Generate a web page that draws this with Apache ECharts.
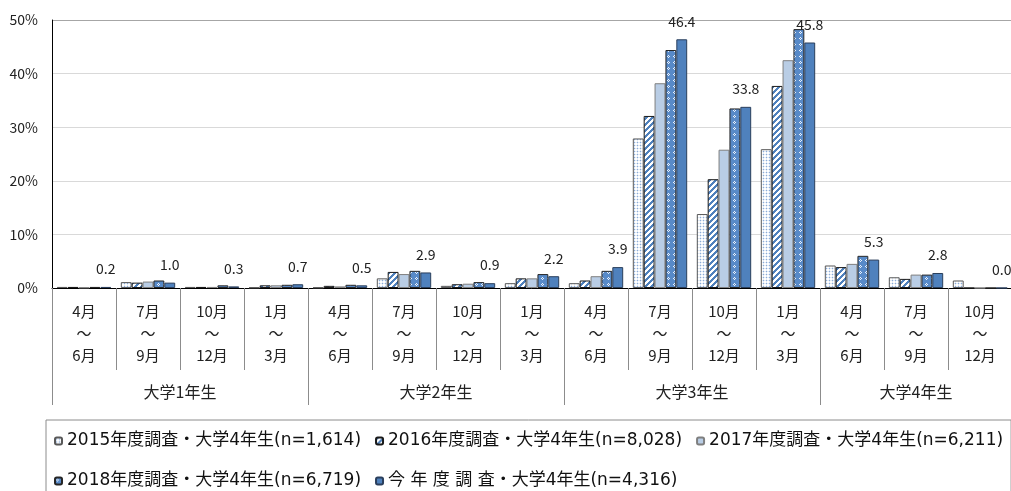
<!DOCTYPE html>
<html><head><meta charset="utf-8">
<script src="https://cdn.jsdelivr.net/npm/echarts@6/dist/echarts.min.js"></script>
<style>html,body{margin:0;padding:0;background:#fff}#c{width:1011px;height:491px}</style>
</head><body><div id="c"></div>
<script>
const categories = ['4月\n～\n6月','7月\n～\n9月','10月\n～\n12月','1月\n～\n3月',
                    '4月\n～\n6月','7月\n～\n9月','10月\n～\n12月','1月\n～\n3月',
                    '4月\n～\n6月','7月\n～\n9月','10月\n～\n12月','1月\n～\n3月',
                    '4月\n～\n6月','7月\n～\n9月','10月\n～\n12月'];
const groups = ['大学1年生','大学2年生','大学3年生','大学4年生'];
const groupSizes = [4,4,4,3];
const seriesNames = ['2015年度調査・大学4年生(n=1,614)','2016年度調査・大学4年生(n=8,028)','2017年度調査・大学4年生(n=6,211)','2018年度調査・大学4年生(n=6,719)','今 年 度 調 査・大学4年生(n=4,316)'];
const s2015 = [0.2,1.1,0.2,0.1, 0.1,1.8,0.4,0.9, 0.9,27.9,13.8,25.9, 4.2,2.0,1.4];
const s2016 = [0.2,1.0,0.2,0.5, 0.4,3.0,0.7,1.8, 1.4,32.1,20.3,37.7, 3.9,1.7,0];
const s2017 = [0.1,1.2,0.2,0.5, 0.3,2.6,0.8,1.8, 2.2,38.2,25.8,42.5, 4.5,2.5,0];
const s2018 = [0.2,1.4,0.5,0.6, 0.6,3.2,1.1,2.6, 3.2,44.4,33.5,48.3, 6.0,2.5,0];
const sNow  = [0.2,1.0,0.3,0.7, 0.5,2.9,0.9,2.2, 3.9,46.4,33.8,45.8, 5.3,2.8,0.0];
const yMax = 50, yStep = 10;

function pattern(size, fn) {
  const c = document.createElement('canvas'); c.width = c.height = size;
  const ctx = c.getContext('2d'); const img = ctx.createImageData(size, size);
  for (let y = 0; y < size; y++) for (let x = 0; x < size; x++) {
    const col = fn(x, y); const i = (y * size + x) * 4;
    img.data[i] = col[0]; img.data[i+1] = col[1]; img.data[i+2] = col[2]; img.data[i+3] = 255;
  }
  ctx.putImageData(img, 0, 0);
  return { image: c, repeat: 'repeat' };
}
const W = [255,255,255], B = [79,129,189], LB = [140,172,215];
const pat2015 = pattern(3, (x,y) => (x===1 && y===1) ? LB : (x===1 || y===1) ? [225,234,246] : W);
const pat2016 = pattern(6, (x,y) => ((x+y)%6 < 3) ? B : W);
const pat2018 = pattern(6, (x,y) => {
  const d = Math.abs(x-2) + Math.abs(y-2);
  return d === 1 ? [235,241,250] : [88,138,200];
});

const styles = [
  { color: pat2015, borderColor: '#595959', borderWidth: 1 },
  { color: pat2016, borderColor: '#1a1a1a', borderWidth: 1 },
  { color: '#b9cde5', borderColor: '#7f7f7f', borderWidth: 1 },
  { color: pat2018, borderColor: '#262626', borderWidth: 1 },
  { color: '#4f81bd', borderColor: '#2b3f5c', borderWidth: 1 }
];
const dataSets = [s2015, s2016, s2017, s2018, sNow];

const groupBounds = [0]; groupSizes.forEach(s => groupBounds.push(groupBounds[groupBounds.length-1] + s));
const groupCenters = groupSizes.map((s,i) => groupBounds[i] + s/2);
const yTicks = []; for (let v = 0; v <= yMax; v += yStep) yTicks.push(v);
const gridColors = yTicks.map((v,i) => i === yTicks.length-1 ? '#a6a6a6' : '#d9d9d9');

const font = "'Noto Sans CJK JP', 'Noto Sans', sans-serif";
const legendFont = "'DejaVu Sans', 'Noto Sans CJK JP', sans-serif";
const chart = echarts.init(document.getElementById('c'));
chart.setOption({
  animation: false,
  textStyle: { fontFamily: font },
  grid: { left: 52, right: -1, top: 20, bottom: 203, containLabel: false, outerBoundsMode: 'none' },
  legend: {
    left: 46, top: 420, width: 990, selectedMode: false,
    padding: [8, 8, 8, 8], borderColor: '#8c8c8c', borderWidth: 1,
    itemWidth: 7, itemHeight: 7, itemGap: 14,
    textStyle: { fontFamily: legendFont, fontSize: 17, color: '#111', lineHeight: 26 },
    data: seriesNames
  },
  xAxis: [{
    type: 'category', data: categories, boundaryGap: true,
    axisLine: { lineStyle: { color: '#000', width: 1 } },
    axisTick: { show: true, length: 82, lineStyle: { color: '#8c8c8c' } },
    axisLabel: { interval: 0, margin: 12, lineHeight: 22, fontSize: 15, color: '#222', fontFamily: font }
  }, {
    type: 'value', min: 0, max: groupBounds[groupBounds.length-1], position: 'bottom',
    axisLine: { show: false }, splitLine: { show: false },
    axisTick: { show: true, customValues: groupBounds.slice(0, -1), length: 117, lineStyle: { color: '#8c8c8c' } },
    axisLabel: { customValues: groupCenters, margin: 96, fontSize: 16, color: '#222', fontFamily: font,
      formatter: v => { const i = groupCenters.indexOf(v); return i >= 0 ? groups[i] : ''; } }
  }],
  yAxis: {
    type: 'value', min: 0, max: yMax, interval: yStep,
    axisLine: { show: true, lineStyle: { color: '#000' } },
    axisTick: { show: false },
    axisLabel: { formatter: '{value}%', fontSize: 14, margin: 14, color: '#222', fontFamily: font },
    splitLine: { lineStyle: { color: gridColors, width: 1 } }
  },
  series: seriesNames.map((n, i) => ({
    name: n, type: 'bar', xAxisIndex: 0, data: dataSets[i],
    barGap: '0%', barCategoryGap: '15%',
    itemStyle: styles[i],
    label: i === 4 ? { show: true, position: 'top', distance: 11, fontSize: 14, color: '#222', fontFamily: font,
      formatter: p => p.value.toFixed(1) } : { show: false }
  }))
});
</script></body></html>
